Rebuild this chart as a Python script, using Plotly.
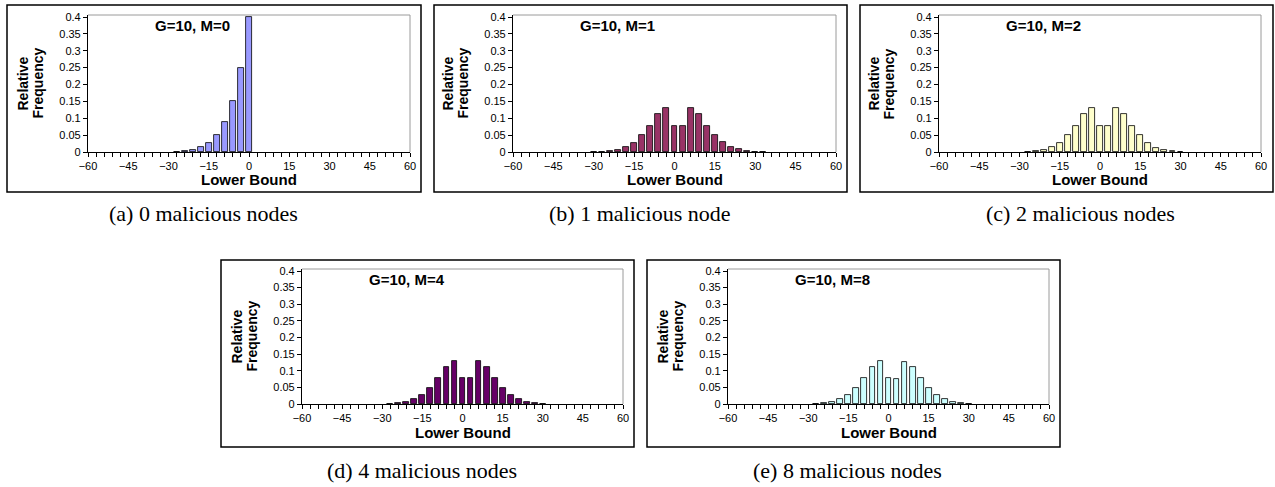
import plotly.graph_objects as go

W, H = 1275, 487

# ---------------- data ----------------
lower_bound = [-33, -30, -27, -24, -21, -18, -15, -12, -9, -6, -3, 0,
               3, 6, 9, 12, 15, 18, 21, 24, 27, 30, 33]

freq_m0 = [0, 0, 0.0005, 0.002, 0.006, 0.014, 0.026, 0.051, 0.09, 0.151, 0.25, 0.40,
           0, 0, 0, 0, 0, 0, 0, 0, 0, 0, 0]
freq_m1 = [0, 0.0005, 0.001, 0.003, 0.007, 0.015, 0.028, 0.05, 0.078, 0.114, 0.13, 0.078,
           0.078, 0.13, 0.112, 0.078, 0.05, 0.029, 0.014, 0.008, 0.004, 0.001, 0.0005]
freq_m2 = [0, 0, 0.0005, 0.003, 0.007, 0.015, 0.028, 0.049, 0.078, 0.114, 0.13, 0.077,
           0.077, 0.13, 0.112, 0.077, 0.049, 0.027, 0.013, 0.007, 0.003, 0.0005, 0]
freq_m4 = [0, 0, 0.0005, 0.003, 0.007, 0.016, 0.028, 0.049, 0.079, 0.112, 0.13, 0.077,
           0.077, 0.13, 0.111, 0.079, 0.049, 0.028, 0.015, 0.007, 0.003, 0.0005, 0]
freq_m8 = [0, 0, 0.0005, 0.002, 0.006, 0.015, 0.028, 0.048, 0.079, 0.111, 0.129, 0.078,
           0.076, 0.127, 0.111, 0.079, 0.048, 0.028, 0.014, 0.006, 0.003, 0.0005, 0]

panel_titles = ["G=10, M=0", "G=10, M=1", "G=10, M=2", "G=10, M=4", "G=10, M=8"]
captions = ["(a) 0 malicious nodes", "(b) 1 malicious node", "(c) 2 malicious nodes",
            "(d) 4 malicious nodes", "(e) 8 malicious nodes"]
bar_colors = ["#9999FF", "#993366", "#FFFFCC", "#660066", "#CCFFFF"]
series = [freq_m0, freq_m1, freq_m2, freq_m4, freq_m8]

x_tickvals = [-60, -45, -30, -15, 0, 15, 30, 45, 60]
y_tickvals = [0, 0.05, 0.1, 0.15, 0.2, 0.25, 0.3, 0.35, 0.4]
y_ticktext = ["0", "0.05", "0.1", "0.15", "0.2", "0.25", "0.3", "0.35", "0.4"]

# ---------------- layout (pixels) ----------------
boxes = [(7, 5, 421, 192), (434, 5, 847, 192), (860, 5, 1273, 192),
         (221, 260, 634, 447), (647, 260, 1060, 447)]
plots = [(88, 15, 410, 152), (513, 15, 836, 152), (939, 15, 1261, 152),
         (302, 269, 623, 404), (728, 269, 1049, 404)]
caption_pos = [(203, 214), (639, 214), (1080, 214), (422, 470), (847, 470)]

SANS = "Liberation Sans, Arial, sans-serif"
SERIF = "Liberation Serif, Times New Roman, serif"


def px(x):
    return x / W


def py(y):
    return 1 - y / H


fig = go.Figure()
shapes = []
annotations = []

for i in range(5):
    n = "" if i == 0 else str(i + 1)
    xa, ya = "x" + n, "y" + n
    L, T, R, B = plots[i]
    xs = [x for x, v in zip(lower_bound, series[i]) if v > 0]
    ys = [v for v in series[i] if v > 0]
    fig.add_trace(go.Bar(
        x=xs, y=ys, width=2.2,
        marker=dict(color=bar_colors[i], line=dict(color="black", width=0.8)),
        xaxis=xa, yaxis=ya, showlegend=False,
    ))
    axis_x = dict(
        domain=[px(L), px(R)], anchor=ya, range=[-60, 60], automargin=False,
        tickmode="array", tickvals=x_tickvals,
        ticks="outside", ticklen=4, tickcolor="black", tickwidth=1,
        minor=dict(tick0=-60, dtick=3, ticks="outside", ticklen=4,
                   tickcolor="black", tickwidth=1, showgrid=False),
        showline=True, linecolor="black", linewidth=1.2,
        showgrid=False, zeroline=False,
        tickfont=dict(family=SANS, size=11, color="black"),
    )
    axis_y = dict(
        domain=[py(B), py(T)], anchor=xa, range=[0, 0.406], automargin=False,
        tickmode="array", tickvals=y_tickvals, ticktext=y_ticktext,
        ticks="outside", ticklen=4, tickcolor="black", tickwidth=1,
        showline=True, linecolor="black", linewidth=1.2,
        showgrid=False, zeroline=False,
        tickfont=dict(family=SANS, size=11, color="black"),
    )
    fig.layout["xaxis" + n] = axis_x
    fig.layout["yaxis" + n] = axis_y

    shapes.append(dict(type="line", xref="paper", yref="paper",
                       x0=px(L), x1=px(R), y0=py(T), y1=py(T),
                       line=dict(color="#9a9a9a", width=1)))
    shapes.append(dict(type="line", xref="paper", yref="paper",
                       x0=px(R), x1=px(R), y0=py(T), y1=py(B),
                       line=dict(color="#9a9a9a", width=1)))
    bl, bt, br, bb = boxes[i]
    shapes.append(dict(type="rect", xref="paper", yref="paper",
                       x0=px(bl), x1=px(br), y0=py(bb), y1=py(bt),
                       line=dict(color="black", width=1.5), fillcolor="rgba(0,0,0,0)"))

    annotations.append(dict(text="<b>" + panel_titles[i] + "</b>", xref="paper", yref="paper",
                            x=px(L + 65), y=py(T + 10), xanchor="left", yanchor="middle",
                            showarrow=False, font=dict(family=SANS, size=15, color="black")))
    annotations.append(dict(text="<b>Lower Bound</b>", xref="paper", yref="paper",
                            x=px((L + R) / 2), y=py(B + 28), xanchor="center", yanchor="middle",
                            showarrow=False, font=dict(family=SANS, size=15, color="black")))
    cy = (T + B) / 2
    annotations.append(dict(text="<b>Relative</b>", xref="paper", yref="paper",
                            x=px(L - 66), y=py(cy), xanchor="center", yanchor="middle",
                            textangle=-90, showarrow=False,
                            font=dict(family=SANS, size=14, color="black")))
    annotations.append(dict(text="<b>Frequency</b>", xref="paper", yref="paper",
                            x=px(L - 51), y=py(cy), xanchor="center", yanchor="middle",
                            textangle=-90, showarrow=False,
                            font=dict(family=SANS, size=14, color="black")))
    cx, cyy = caption_pos[i]
    annotations.append(dict(text=captions[i], xref="paper", yref="paper",
                            x=px(cx), y=py(cyy), xanchor="center",
                            yanchor="middle", showarrow=False,
                            font=dict(family=SERIF, size=22, color="black")))

fig.update_layout(
    width=W, height=H,
    margin=dict(l=0, r=0, t=0, b=0, autoexpand=False),
    paper_bgcolor="white", plot_bgcolor="white",
    shapes=shapes, annotations=annotations,
    bargap=0, showlegend=False,
)

fig.write_html("out.html",
               config={"displayModeBar": False},
               post_script="document.body.style.margin='0';document.body.style.overflow='hidden';")
